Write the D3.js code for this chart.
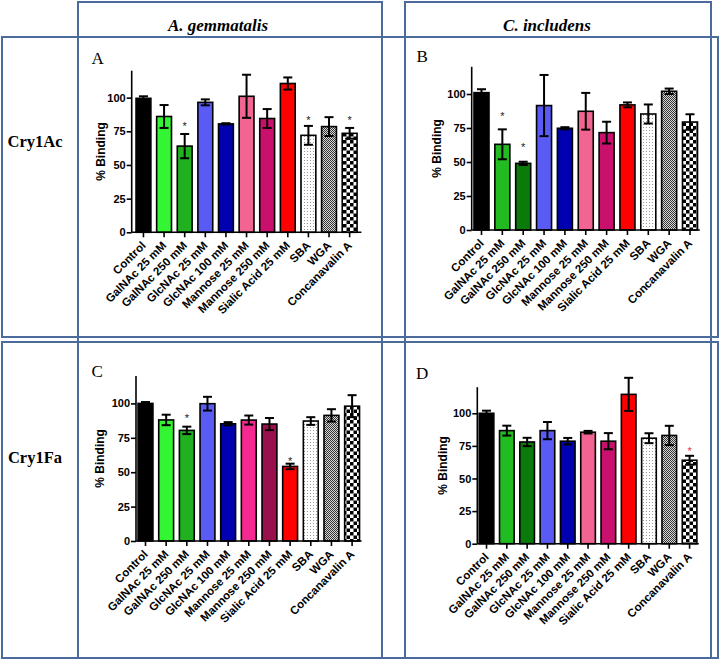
<!DOCTYPE html>
<html>
<head>
<meta charset="utf-8">
<script src="https://cdn.jsdelivr.net/npm/d3@7"></script>
<style>
  html, body { margin: 0; padding: 0; background: #fff; }
  svg { display: block; }
</style>
</head>
<body>
<svg id="chart" width="720" height="660"></svg>
<script>
// ---------------- DATA ----------------
const categories = ["Control", "GalNAc 25 mM", "GalNAc 250 mM", "GlcNAc 25 mM", "GlcNAc 100 mM",
  "Mannose 25 mM", "Mannose 250 mM", "Sialic Acid 25 mM", "SBA", "WGA", "Concanavalin A"];
const yTicks = [0, 25, 50, 75, 100];
const columnTitles = ["A. gemmatalis", "C. includens"];
const rowTitles = ["Cry1Ac", "Cry1Fa"];
const panelLetters = ["A", "B", "C", "D"];

// Panel A: Cry1Ac / A. gemmatalis
const valuesA = [99.5, 86, 64, 96.5, 80.5, 101, 84.5, 110.5, 72, 78.5, 73.5];
const errorsA = [1.5, 8.5, 9, 2.2, 0.5, 16, 7, 4.5, 7, 7, 4];
const starIdxA = [2, 8, 10];
const starValA = [79.7, 84.6, 84.6];

// Panel B: Cry1Ac / C. includens
const valuesB = [101, 63, 49, 91.5, 74.8, 87.3, 71.6, 92, 85.3, 102, 79.4];
const errorsB = [2.5, 11, 1.2, 22.5, 0.8, 13.5, 8, 1.8, 7, 2, 5.7];
const starIdxB = [1, 2];
const starValB = [85, 62];

// Panel C: Cry1Fa / A. gemmatalis
const valuesC = [100, 88, 80.4, 99.8, 85.2, 87.9, 85, 54.2, 87.2, 91.3, 98];
const errorsC = [1, 3.8, 2.7, 5, 1.2, 3.3, 4.4, 2, 2.8, 4.5, 8];
const starIdxC = [2, 7];
const starValC = [90.3, 59.4];

// Panel D: Cry1Fa / C. includens
const valuesD = [100, 86.7, 78, 86.7, 78.6, 85.5, 78.6, 114.5, 80.9, 83, 64];
const errorsD = [2, 3.8, 3.2, 6.6, 2.5, 1, 6.2, 12.7, 3.8, 7.4, 3.4];
const starIdxD = [10];
const starValD = [71.9];

// ---------------- STYLES ----------------
const fillsA = ["#000000", "#33f533", "#20b020", "#5a5af5", "#0000b0", "#f26592", "#c8106c", "#ff0000", "url(#pSBA)", "url(#pWGA)", "url(#pConA)"];
const fillsB = ["#000000", "#22bb22", "#0a7a0a", "#5a5af5", "#0000b0", "#f26592", "#c8106c", "#ff0000", "url(#pSBA)", "url(#pWGA)", "url(#pConA)"];
const fillsC = ["#000000", "#33f533", "#20b020", "#5a5af5", "#0000b0", "#f52a90", "#99104d", "#ff0000", "url(#pSBA)", "url(#pWGA)", "url(#pConA)"];
const fillsD = ["#000000", "#22bb22", "#0a7a0a", "#5a5af5", "#0000b0", "#f26592", "#c8106c", "#ff0000", "url(#pSBA)", "url(#pWGA)", "url(#pConA)"];

const panels = [
  { letter: panelLetters[0], values: valuesA, errors: errorsA, starIdx: starIdxA, starVal: starValA, fills: fillsA, starColor: "#222",
    x0: 131.7, x1: 361.4, y0: 232.3, yTop: 70.7, po: 0.21, letterX: 91.5, letterY: 63.5, labelDx: -31 },
  { letter: panelLetters[1], values: valuesB, errors: errorsB, starIdx: starIdxB, starVal: starValB, fills: fillsB, starColor: "#222",
    x0: 471.7, x1: 699.8, y0: 230, yTop: 66.8, po: 0.11, letterX: 416.5, letterY: 62, labelDx: -35 },
  { letter: panelLetters[2], values: valuesC, errors: errorsC, starIdx: starIdxC, starVal: starValC, fills: fillsC, starColor: "#222",
    x0: 136, x1: 361.6, y0: 541, yTop: 375.9, po: 0.10, letterX: 91.5, letterY: 377, labelDx: -36 },
  { letter: panelLetters[3], values: valuesD, errors: errorsD, starIdx: starIdxD, starVal: starValD, fills: fillsD, starColor: "#e0303a",
    x0: 477.3, x1: 698.8, y0: 543.7, yTop: 387.2, po: 0.094, letterX: 416, letterY: 378.5, labelDx: -35 }
];

const svg = d3.select("#chart");
svg.append("rect").attr("width", 720).attr("height", 660).attr("fill", "#fff");

// ---------------- PATTERNS ----------------
const defs = svg.append("defs");
const pSBA = defs.append("pattern").attr("id", "pSBA").attr("patternUnits", "userSpaceOnUse")
  .attr("width", 3).attr("height", 3);
pSBA.append("rect").attr("width", 3).attr("height", 3).attr("fill", "#fff");
pSBA.append("rect").attr("x", 1).attr("y", 1).attr("width", 1).attr("height", 1).attr("fill", "#999");

const pWGA = defs.append("pattern").attr("id", "pWGA").attr("patternUnits", "userSpaceOnUse")
  .attr("width", 2).attr("height", 2);
pWGA.append("rect").attr("width", 2).attr("height", 2).attr("fill", "#d8d8d8");
pWGA.append("rect").attr("x", 0).attr("y", 0).attr("width", 1).attr("height", 1).attr("fill", "#333");
pWGA.append("rect").attr("x", 1).attr("y", 1).attr("width", 1).attr("height", 1).attr("fill", "#333");

const pConA = defs.append("pattern").attr("id", "pConA").attr("patternUnits", "userSpaceOnUse")
  .attr("width", 7).attr("height", 7);
pConA.append("rect").attr("width", 7).attr("height", 7).attr("fill", "#fff");
pConA.append("rect").attr("x", 0).attr("y", 0).attr("width", 3.5).attr("height", 3.5).attr("fill", "#000");
pConA.append("rect").attr("x", 3.5).attr("y", 3.5).attr("width", 3.5).attr("height", 3.5).attr("fill", "#000");

// ---------------- FRAMES ----------------
const frameColor = "#4a6b9b";
const frames = svg.append("g").attr("fill", "none").attr("stroke", frameColor).attr("stroke-width", 2);
frames.append("rect").attr("x", 2).attr("y", 37).attr("width", 716).attr("height", 300);
frames.append("rect").attr("x", 2).attr("y", 342).attr("width", 716).attr("height", 316);
frames.append("rect").attr("x", 78).attr("y", 2).attr("width", 304).attr("height", 656);
frames.append("rect").attr("x", 405).attr("y", 2).attr("width", 306).attr("height", 656);

// column titles
const colCenters = [218, 547];
columnTitles.forEach((t, i) => {
  svg.append("text").attr("x", colCenters[i]).attr("y", 31)
    .attr("text-anchor", "middle")
    .attr("font-family", "'Liberation Serif', 'Times New Roman', serif")
    .attr("font-weight", "bold").attr("font-style", "italic")
    .attr("font-size", 17).attr("fill", "#000").text(t);
});
// row titles
const rowBaselines = [147, 463];
rowTitles.forEach((t, i) => {
  svg.append("text").attr("x", 35).attr("y", rowBaselines[i])
    .attr("text-anchor", "middle")
    .attr("font-family", "'Liberation Serif', 'Times New Roman', serif")
    .attr("font-weight", "bold")
    .attr("font-size", 16.5).attr("fill", "#000").text(t);
});

// ---------------- PANELS ----------------
const sansFont = "'Liberation Sans', Arial, sans-serif";

panels.forEach(p => {
  const g = svg.append("g");
  const x = d3.scaleBand().domain(categories).range([p.x0, p.x1])
    .paddingInner(0.28).paddingOuter(p.po);
  const y = d3.scaleLinear().domain([0, 120]).range([p.y0, p.yTop]);

  // letter
  g.append("text").attr("x", p.letterX).attr("y", p.letterY)
    .attr("font-family", "'Liberation Serif', 'Times New Roman', serif")
    .attr("font-size", 17).attr("fill", "#000").text(p.letter);

  // bars
  const rows = categories.map((c, i) => ({ c, v: p.values[i], e: p.errors[i], f: p.fills[i] }));
  g.selectAll("rect.bar").data(rows).enter().append("rect").attr("class", "bar")
    .attr("x", d => x(d.c)).attr("width", x.bandwidth())
    .attr("y", d => y(d.v)).attr("height", d => y(0) - y(d.v))
    .attr("fill", d => d.f).attr("stroke", "#000").attr("stroke-width", 1.6);

  // error bars
  const eb = g.append("g").attr("stroke", "#000").attr("stroke-width", 2).attr("fill", "none");
  const cap = 4.5;
  rows.forEach(d => {
    const cx = x(d.c) + x.bandwidth() / 2;
    const hi = y(d.v + d.e), lo = y(d.v - d.e);
    eb.append("line").attr("x1", cx).attr("x2", cx).attr("y1", hi).attr("y2", lo);
    eb.append("line").attr("x1", cx - cap).attr("x2", cx + cap).attr("y1", hi).attr("y2", hi);
    eb.append("line").attr("x1", cx - cap).attr("x2", cx + cap).attr("y1", lo).attr("y2", lo);
  });

  // stars
  p.starIdx.forEach((idx, k) => {
    g.append("text").attr("x", x(categories[idx]) + x.bandwidth() / 2)
      .attr("y", y(p.starVal[k]) + 5.5)
      .attr("text-anchor", "middle").attr("font-family", sansFont)
      .attr("font-size", 11).attr("fill", p.starColor).text("*");
  });

  // y axis
  const yAxis = d3.axisLeft(y).tickValues(yTicks).tickSize(5).tickPadding(1).tickSizeOuter(0);
  const ya = g.append("g").attr("transform", `translate(${p.x0},0)`).call(yAxis);
  ya.select(".domain").attr("stroke", "#000").attr("stroke-width", 1.6)
    .attr("d", `M0,${p.y0}V${p.yTop}`);
  ya.selectAll(".tick line").attr("stroke", "#000").attr("stroke-width", 1.6);
  ya.selectAll(".tick text").attr("font-family", sansFont).attr("font-weight", "bold")
    .attr("font-size", 11).attr("fill", "#000");

  // x axis
  const xAxis = d3.axisBottom(x).tickSize(5).tickSizeOuter(0).tickFormat(() => "");
  const xa = g.append("g").attr("transform", `translate(0,${p.y0})`).call(xAxis);
  xa.select(".domain").attr("stroke", "#000").attr("stroke-width", 1.6)
    .attr("d", `M${p.x0},0H${p.x1}`);
  xa.selectAll(".tick line").attr("stroke", "#000").attr("stroke-width", 1.6);

  // x tick labels rotated
  g.selectAll("text.xl").data(categories).enter().append("text").attr("class", "xl")
    .attr("transform", d => `translate(${x(d) + x.bandwidth() / 2 + 3},${p.y0 + 14}) rotate(-45)`)
    .attr("text-anchor", "end").attr("font-family", sansFont).attr("font-weight", "bold")
    .attr("font-size", 11.5).attr("fill", "#000").text(d => d);

  // y label
  g.append("text")
    .attr("transform", `translate(${p.x0 + p.labelDx},${(p.y0 + p.yTop) / 2}) rotate(-90)`)
    .attr("dy", "0.35em").attr("text-anchor", "middle")
    .attr("font-family", sansFont).attr("font-weight", "bold").attr("font-size", 12)
    .attr("fill", "#000").text("% Binding");
});
</script>
</body>
</html>
